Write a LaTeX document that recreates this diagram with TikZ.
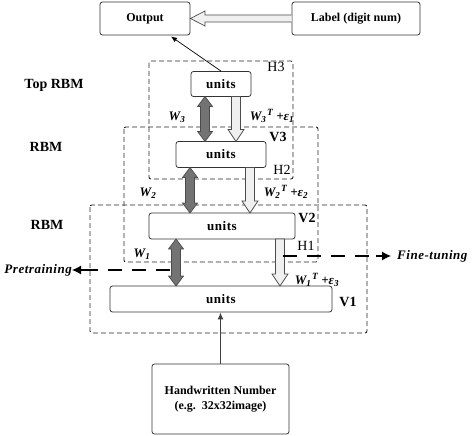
\documentclass[tikz,border=0pt]{standalone}
\usepackage{fontspec}
\setmainfont{Liberation Serif}
\usetikzlibrary{arrows.meta,calc}
\tikzset{
  solidbox/.style={draw=black!80,line width=0.8pt,rounded corners=2.5pt,fill=white,inner sep=0pt,font=\bfseries\fontsize{12}{14}\selectfont},
  unitbox/.style={solidbox,font=\bfseries\fontsize{13}{15}\selectfont\addfontfeatures{LetterSpace=4}},
  dashbox/.style={draw=black!85,line width=0.9pt,dash pattern=on 5pt off 3pt,rounded corners=2pt},
  lbl/.style={inner sep=0pt,font=\fontsize{14}{16}\selectfont},
  wl/.style={inner sep=0pt,font=\bfseries\itshape\fontsize{13}{15}\selectfont},
  dblarr/.style={draw=black!70,fill=black!55,line width=0.7pt,line join=miter},
  holarr/.style={draw=black!70,fill=black!6,line width=0.7pt,line join=miter},
  bigdash/.style={line width=2.6pt,dash pattern=on 14pt off 10pt,black},
}
\newcommand{\DblArr}[3]{% cx, ytop, ybot
  \draw[dblarr] (#1,#2) -- (#1+7.5,#2+10) -- (#1+4.5,#2+10) -- (#1+4.5,#3-10) -- (#1+7.5,#3-10) -- (#1,#3)
   -- (#1-7.5,#3-10) -- (#1-4.5,#3-10) -- (#1-4.5,#2+10) -- (#1-7.5,#2+10) -- cycle;}
\newcommand{\HolArr}[3]{%
  \draw[holarr] (#1-4.5,#2) -- (#1+4.5,#2) -- (#1+4.5,#3-12) -- (#1+8,#3-12) -- (#1,#3)
   -- (#1-8,#3-12) -- (#1-4.5,#3-12) -- cycle;}
\newcommand{\WT}[2]{W\textsubscript{#1}\kern0.5pt\raisebox{4.5pt}{\fontsize{9.5}{9.5}\selectfont T}\kern3.5pt+ε\textsubscript{#2}}
\begin{document}
\begin{tikzpicture}[x=1pt,y=-1pt]
\useasboundingbox (0,0) rectangle (472,436);
% dashed frames
\draw[dashbox] (149,61) rectangle (293,179);
\draw[dashbox] (124,127) rectangle (318,262);
\draw[dashbox] (90,205) rectangle (367,333);
% top boxes
\node[solidbox,minimum width=90pt,minimum height=33pt] (out) at (145,18.5) {Output};
\node[solidbox,minimum width=128pt,minimum height=33pt] (lab) at (356,18.5) {Label (digit num)};
% units
\node[unitbox,minimum width=60pt,minimum height=25pt] (u1) at (221,84) {units};
\node[unitbox,minimum width=90pt,minimum height=26pt] (u2) at (221,154.5) {units};
\node[unitbox,minimum width=146pt,minimum height=26pt] (u3) at (222,226) {units};
\node[unitbox,minimum width=222pt,minimum height=26pt] (u4) at (221,299) {units};
\node[solidbox,minimum width=137pt,minimum height=70pt,align=center,font=\bfseries\fontsize{12}{15}\selectfont] (hw) at (220.5,399) {Handwritten Number\\(e.g.~~32x32image)};
% hollow arrow label -> output
\draw[holarr] (lab.west |- 0,15) -- (205,15) -- (205,11) -- (out.east) -- (205,26) -- (205,22) -- (lab.west |- 0,22);
% thin arrows
\draw[black,line width=0.7pt,-{Latex[length=6pt,width=5pt]}] (u1.north) -- (171,36.5);
\draw[black!75,line width=1.2pt,-{Latex[length=7pt,width=6pt]}] (hw.north) -- (u4.south -| hw.north);
% block arrows
\DblArr{205}{96.5}{141.5}
\HolArr{236}{96.5}{141.5}
\DblArr{190}{167.5}{213}
\HolArr{250}{167.5}{213}
\DblArr{176}{239}{286}
\HolArr{280}{239}{286}
% labels
\node[lbl,font=\bfseries\fontsize{14}{16}\selectfont] (trbm) at (54,85) {Top RBM};
\node[lbl,font=\bfseries\fontsize{14}{16}\selectfont] (rbm2) at (46,147) {RBM};
\node[lbl,font=\bfseries\fontsize{14}{16}\selectfont] (rbm3) at (47,225) {RBM};
\node[lbl] (h3) at (276,67) {H3};
\node[lbl,font=\bfseries\fontsize{14}{16}\selectfont] (v3) at (278,137) {V3};
\node[lbl] (h2) at (282,170) {H2};
\node[lbl,font=\bfseries\fontsize{14}{16}\selectfont] (v2) at (307,218) {V2};
\node[lbl] (h1) at (306,246) {H1};
\node[lbl,font=\bfseries\fontsize{14}{16}\selectfont] (v1) at (348,302) {V1};
\node[wl] (w3) at (177,117) {W\textsubscript{3}};
\node[wl] (w3t) at (272,116) {\WT{3}{1}};
\node[wl] (w2) at (148,193) {W\textsubscript{2}};
\node[wl] (w2t) at (286,192) {\WT{2}{2}};
\node[wl] (w1) at (142,254) {W\textsubscript{1}};
\node[wl] (w1t) at (317,280) {\WT{1}{3}};
% pretraining / fine-tuning
\node[wl,font=\bfseries\itshape\fontsize{13}{15}\selectfont\addfontfeatures{LetterSpace=4},anchor=east] (pre) at (72,270) {Pretraining};
\node[wl,font=\bfseries\itshape\fontsize{13}{15}\selectfont\addfontfeatures{LetterSpace=4},anchor=west] (fine) at (397,256) {Fine-tuning};
\coordinate (ps) at (170,270);
\coordinate (fs) at (283,256);
\draw[bigdash] (ps) -- (84,270);
\draw[black,line width=1.2pt,-{Latex[length=9pt,width=9pt]}] (86,270) -- (pre.east);
\draw[bigdash] (fs) -- (378,256);
\draw[black,line width=1.2pt,-{Latex[length=9pt,width=9pt]}] (376,256) -- ($(fine.west)+(-6,0)$);
\end{tikzpicture}
\end{document}
